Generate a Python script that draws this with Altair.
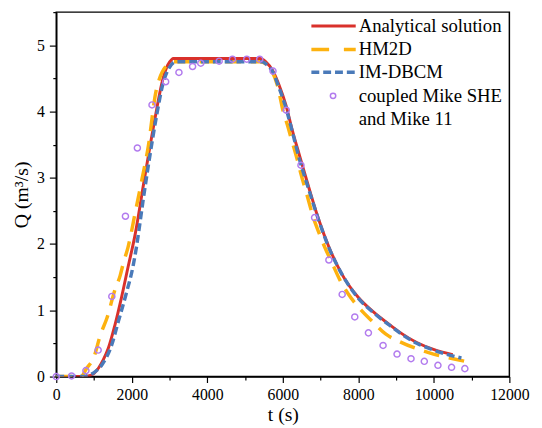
import altair as alt
import pandas as pd

# ---------------- data ----------------
t_analytical = [0, 700, 850, 1000, 1120, 1250, 1380, 1550, 1730, 1900, 2080, 2340, 2600, 2820,
                2950, 3050, 3100, 5400, 5550, 5730, 5900, 6080, 6250, 6430, 6690, 6950, 7210,
                7560, 7990, 8430, 8860, 9120, 9560, 9990, 10500]
q_analytical = [0, 0, 0.01, 0.05, 0.13, 0.26, 0.43, 0.77, 1.20, 1.65, 2.12, 3.00, 3.85, 4.48,
                4.70, 4.78, 4.80, 4.80, 4.75, 4.62, 4.40, 4.10, 3.72, 3.36, 2.85, 2.37, 1.97,
                1.55, 1.20, 0.96, 0.77, 0.66, 0.51, 0.41, 0.33]

t_hm2d = [0, 650, 800, 1000, 1170, 1340, 1560, 1690, 1780, 1900, 2100, 2270, 2430, 2640, 2730,
          2900, 3100, 5400, 5550, 5730, 5860, 6010, 6120, 6210, 6380, 6470, 6640, 6820, 6950,
          7120, 7300, 7510, 7730, 8080, 8340, 8730, 9120, 9600, 9990, 10510, 10820]
q_hm2d = [0, 0, 0.12, 0.30, 0.63, 0.88, 1.32, 1.52, 1.72, 1.95, 2.50, 2.98, 3.45, 4.30, 4.49,
          4.68, 4.75, 4.75, 4.72, 4.59, 4.39, 4.00, 3.80, 3.62, 3.28, 3.08, 2.74, 2.38, 2.18,
          1.94, 1.72, 1.46, 1.25, 1.00, 0.85, 0.64, 0.52, 0.41, 0.34, 0.27, 0.23]

t_imdbcm = [0, 700, 850, 1000, 1210, 1470, 1643, 1861, 2035, 2122, 2300, 2470, 2670, 2817,
            2990, 3165, 5450, 5550, 5730, 5900, 6080, 6250, 6430, 6690, 6950, 7210, 7560,
            7990, 8430, 8860, 9120, 9560, 9990, 10730]
q_imdbcm = [0, 0, 0.02, 0.06, 0.18, 0.48, 0.83, 1.27, 1.67, 1.95, 2.66, 3.30, 3.98, 4.40,
            4.66, 4.75, 4.75, 4.72, 4.60, 4.36, 4.06, 3.70, 3.30, 2.82, 2.36, 1.96, 1.55,
            1.19, 0.95, 0.76, 0.65, 0.50, 0.40, 0.28]

t_mike = [0, 406, 785, 1110, 1471, 1832, 2148, 2536, 2897, 3249, 3610, 3827, 4314, 4666, 5045,
          5388, 5740, 6092, 6480, 6841, 7220, 7572, 7906, 8267, 8655, 9025, 9395, 9747, 10108,
          10469, 10821]
q_mike = [0, 0.01, 0.09, 0.40, 1.21, 2.42, 3.45, 4.10, 4.45, 4.59, 4.68, 4.73, 4.76, 4.79, 4.79,
          4.79, 4.61, 4.02, 3.19, 2.40, 1.76, 1.24, 0.90, 0.66, 0.47, 0.34, 0.27, 0.23, 0.17,
          0.14, 0.12]

series_names = ["Analytical solution", "HM2D", "IM-DBCM", "coupled Mike SHE", "and Mike 11"]

x_ticks = list(range(0, 12001, 1000))
y_ticks = [i * 0.5 for i in range(0, 12)]

RED = "#D9312B"
ORANGE = "#FDB20F"
BLUE = "#4A7AB9"
PURPLE = "#B27BEE"
FONT = "Liberation Serif"

df_a = pd.DataFrame({"t": t_analytical, "Q": q_analytical})
df_h = pd.DataFrame({"t": t_hm2d, "Q": q_hm2d})
df_i = pd.DataFrame({"t": t_imdbcm, "Q": q_imdbcm})
df_m = pd.DataFrame({"t": t_mike, "Q": q_mike})
one = pd.DataFrame({"k": [0]})

axis_common = dict(grid=False, labelOverlap=False, labelFlush=False,
                   labelFont=FONT, labelFontSize=16, labelColor="black",
                   titleFont=FONT, titleFontSize=20, titleFontWeight="normal", titleColor="black",
                   domainColor="black", domainWidth=1.5, tickColor="black", tickWidth=1.2)

x_enc = alt.X("t:Q", scale=alt.Scale(domain=[0, 12000], nice=False),
              axis=alt.Axis(title="t (s)", values=x_ticks, format="d",
                            labelExpr="datum.value % 2000 === 0 ? datum.label : ''",
                            tickSize={"condition": {"test": "datum.value % 2000 !== 0", "value": 3.5}, "value": 6},
                            labelPadding=4, titlePadding=3, **axis_common))
y_enc = alt.Y("Q:Q", scale=alt.Scale(domain=[0, 5.5], nice=False),
              axis=alt.Axis(title="Q (m³/s)", values=y_ticks, format=".0f",
                            labelExpr="datum.value % 1 === 0 ? datum.label : ''",
                            tickSize={"condition": {"test": "datum.value % 1 !== 0", "value": 3.5}, "value": 7},
                            labelPadding=5, titlePadding=5, **axis_common))

analytical = alt.Chart(df_a).mark_line(color=RED, strokeWidth=3, interpolate="monotone", clip=True).encode(x=x_enc, y=y_enc)
hm2d = alt.Chart(df_h).mark_line(color=ORANGE, strokeWidth=3.5, strokeDash=[16, 10], interpolate="monotone", clip=True).encode(x=x_enc, y=y_enc)
imdbcm = alt.Chart(df_i).mark_line(color=BLUE, strokeWidth=3.5, strokeDash=[8, 4], interpolate="monotone", clip=True).encode(x=x_enc, y=y_enc)
mike = alt.Chart(df_m).mark_point(shape="circle", filled=False, color=PURPLE, size=38, strokeWidth=1.5, opacity=1).encode(x=x_enc, y=y_enc)

# ---------------- legend (manual) ----------------
lx1, lx2, ltx = 259, 304, 307
rows = [14, 38, 61, 85, 109]
leg_red = alt.Chart(one).mark_rule(color=RED, strokeWidth=3).encode(x=alt.value(lx1), x2=alt.value(lx2), y=alt.value(rows[0]))
leg_orange = alt.Chart(one).mark_rule(color=ORANGE, strokeWidth=3.5, strokeDash=[18, 15]).encode(x=alt.value(lx1), x2=alt.value(lx2), y=alt.value(rows[1]))
leg_blue = alt.Chart(one).mark_rule(color=BLUE, strokeWidth=3.5, strokeDash=[8, 4]).encode(x=alt.value(lx1), x2=alt.value(lx2), y=alt.value(rows[2]))
leg_pt = alt.Chart(one).mark_point(shape="circle", filled=False, color=PURPLE, size=30, strokeWidth=1.5, opacity=1).encode(x=alt.value(281), y=alt.value(rows[3]))
texts = []
for name, ry in zip(series_names, rows):
    texts.append(alt.Chart(one).mark_text(text=name, align="left", baseline="middle", font=FONT,
                                          fontSize=19, color="black").encode(x=alt.value(ltx), y=alt.value(ry)))

chart = alt.layer(analytical, hm2d, imdbcm, mike, leg_red, leg_orange, leg_blue, leg_pt, *texts).properties(
    width=460, height=370,
    background="white",
    autosize=alt.AutoSizeParams(type="none"),
    padding={"left": 49, "top": 1, "right": 25, "bottom": 49},
).configure_view(stroke="black", strokeWidth=1.5)

chart.save("out.html", embed_options={"renderer": "svg", "actions": False})
